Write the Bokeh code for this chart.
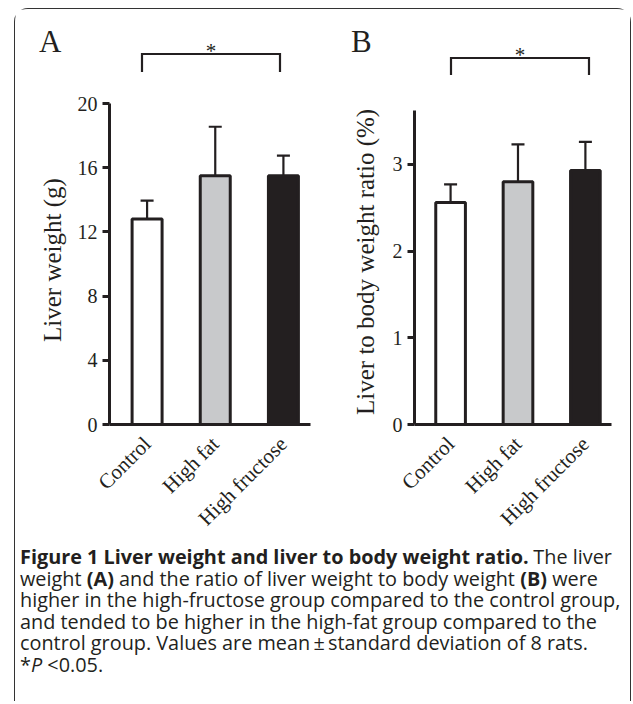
import glob
import os
import numpy as np
from bokeh.plotting import figure
from bokeh.models import ColumnDataSource, Range1d, FixedTicker, Whisker, TeeHead, Title
from bokeh.layouts import column, row
from bokeh.core.properties import value
from bokeh.embed import file_html
from bokeh.resources import INLINE

# ---------------- data ----------------
groups = ["Control", "High fat", "High fructose"]
bar_colors = ["#ffffff", "#c8c9cb", "#231f20"]
liver_weight_mean = [12.8, 15.5, 15.5]
liver_weight_sd = [1.15, 3.05, 1.25]
ratio_mean = [2.56, 2.80, 2.93]
ratio_sd = [0.21, 0.43, 0.33]
weight_ticks = [0, 4, 8, 12, 16, 20]
ratio_ticks = [0, 1, 2, 3]
sig_pair = [0, 2]
sig_mark = "*"
panel_letters = ["A", "B"]
y_labels = ["Liver weight (g)", "Liver to body weight ratio (%)"]

caption_lines = [
    [("Figure 1 Liver weight and liver to body weight ratio.", "bold"), (" The liver", "normal")],
    [("weight ", "normal"), ("(A)", "bold"), (" and the ratio of liver weight to body weight ", "normal"),
     ("(B)", "bold"), (" were", "normal")],
    [("higher in the high-fructose group compared to the control group,", "normal")],
    [("and tended to be higher in the high-fat group compared to the", "normal")],
    [("control group. Values are mean\u2009\u00b1\u2009standard deviation of 8 rats.", "normal")],
    [("*", "normal"), ("P", "italic"), (" <0.05.", "normal")],
]

INK = "#231f20"
SERIF = "Liberation Serif"
SANS = "Open Sans"

HEADER_H = 68
FRAME_H = 347
BOTTOM_H = 120


def plain(fig):
    fig.outline_line_color = None
    fig.xgrid.visible = False
    fig.ygrid.visible = False
    fig.background_fill_color = "white"
    fig.border_fill_color = "white"
    return fig


def make_header(letter, geo, bracket_top, bracket_leg, bracket_dx, letter_px, letter_y):
    xs = [i + 1 for i in range(len(groups))]
    x0 = 1 + (geo["fig_left"] - geo["c1"]) / geo["unit"]
    x1 = 1 + (geo["fig_right"] - geo["c1"]) / geo["unit"]
    h = figure(width=geo["width"], height=HEADER_H, x_range=Range1d(x0, x1),
               y_range=Range1d(HEADER_H, 0), output_backend="svg", toolbar_location=None,
               x_axis_location=None, y_axis_location=None, min_border=0)
    plain(h)
    a, b = sig_pair
    xl = xs[a] + bracket_dx[0] / geo["unit"]
    xr = xs[b] + bracket_dx[1] / geo["unit"]
    h.line(x=[xl, xl, xr, xr], y=[bracket_leg, bracket_top, bracket_top, bracket_leg],
           line_color=INK, line_width=2.2, line_join="miter")
    h.text(x=[(xl + xr) / 2], y=[bracket_top], y_offset=-3.5, text=[sig_mark], text_align="center",
           text_baseline="middle", text_font=value(SERIF), text_font_size="21px", text_color=INK)
    lx = 1 + (letter_px - geo["c1"]) / geo["unit"]
    h.text(x=[lx], y=[letter_y], text=[letter], text_align="left", text_baseline="middle",
           text_font=value(SERIF), text_font_size="31px", text_color=INK)
    return h


def make_panel(means, sds, yticks, ylabel, geo, px_per_unit, axis_top, ylab_offset, ylab_standoff):
    xs = [i + 1 for i in range(len(groups))]
    upper = [m + s for m, s in zip(means, sds)]
    src = ColumnDataSource(dict(x=xs, mean=means, upper=upper, color=bar_colors))
    x_start = 1 + (geo["axis_x"] - geo["c1"]) / geo["unit"]
    x_end = 1 + (geo["fig_right"] - geo["c1"]) / geo["unit"]
    x_axis_end = 1 + (geo["x_axis_right"] - geo["c1"]) / geo["unit"]
    y_end = FRAME_H / px_per_unit
    p = figure(width=geo["width"], height=FRAME_H + BOTTOM_H, x_range=Range1d(x_start, x_end),
               y_range=Range1d(0, y_end), output_backend="svg", toolbar_location=None,
               min_border_left=int(round(geo["axis_x"] - geo["fig_left"])), min_border_right=0,
               min_border_top=0, min_border_bottom=BOTTOM_H)
    plain(p)

    p.vbar(x="x", top="mean", bottom=0, width=0.44, fill_color="color", line_color=INK,
           line_width=3, source=src)
    w = Whisker(source=src, base="x", upper="upper", lower="mean", dimension="height",
                line_color=INK, line_width=2.2,
                upper_head=TeeHead(size=13, line_color=INK, line_width=2.2), lower_head=None)
    p.add_layout(w)

    ya = p.yaxis[0]
    ya.ticker = FixedTicker(ticks=yticks)
    ya.bounds = (0, axis_top)
    ya.axis_line_width = 3
    ya.axis_line_color = INK
    ya.major_tick_line_width = 3
    ya.major_tick_line_color = INK
    ya.major_tick_out = 7
    ya.major_tick_in = 0
    ya.minor_tick_line_color = None
    ya.major_label_text_font = SERIF
    ya.major_label_text_font_size = "20px"
    ya.major_label_text_color = INK
    ya.major_label_standoff = 5

    p.add_layout(Title(text=ylabel, align="left", offset=ylab_offset, standoff=ylab_standoff,
                       text_font=SERIF, text_font_size="25px", text_font_style="normal",
                       text_color=INK), "left")

    xa = p.xaxis[0]
    xa.ticker = FixedTicker(ticks=xs)
    xa.major_label_overrides = {x: g for x, g in zip(xs, groups)}
    xa.major_label_orientation = np.pi / 4
    xa.bounds = (x_start, x_axis_end)
    xa.axis_line_width = 3
    xa.axis_line_color = INK
    xa.major_tick_line_color = None
    xa.major_tick_out = 0
    xa.major_tick_in = 0
    xa.minor_tick_line_color = None
    xa.major_label_text_font = SERIF
    xa.major_label_text_font_size = "21px"
    xa.major_label_text_color = INK
    xa.major_label_standoff = 16
    return p


geoA = dict(width=305, fig_left=15.5, fig_right=320.5, axis_x=110, c1=147.5, unit=68.0, x_axis_right=311)
geoB = dict(width=310, fig_left=320.5, fig_right=630.5, axis_x=415, c1=451, unit=67.25, x_axis_right=612)

hA = make_header(panel_letters[0], geoA, bracket_top=44.5, bracket_leg=62.5, bracket_dx=(-5.5, -3.5),
                 letter_px=39, letter_y=31.5)
hB = make_header(panel_letters[1], geoB, bracket_top=48.5, bracket_leg=65.5, bracket_dx=(0, 3.5),
                 letter_px=351, letter_y=31.5)
pA = make_panel(liver_weight_mean, liver_weight_sd, weight_ticks, y_labels[0], geoA,
                px_per_unit=16.05, axis_top=20, ylab_offset=82.5, ylab_standoff=17)
pB = make_panel(ratio_mean, ratio_sd, ratio_ticks, y_labels[1], geoB,
                px_per_unit=86.7, axis_top=3.62, ylab_offset=9.5, ylab_standoff=22)


# ---------------- caption ----------------
def find_font(patterns):
    roots = ["/usr/share/fonts", "/usr/local/share/fonts",
             os.path.expanduser("~/.local/share/fonts"), os.path.expanduser("~/.fonts")]
    for pat in patterns:
        for r in roots:
            hits = sorted(glob.glob(os.path.join(r, "**", pat), recursive=True))
            if hits:
                return hits[0]
    return None


font_files = {
    "normal": find_font(["OpenSans-Regular.ttf", "OpenSans*Regular*.ttf", "OpenSans*.ttf"]),
    "bold": find_font(["OpenSans-Bold.ttf", "OpenSans*Bold.ttf"]),
    "italic": find_font(["OpenSans-Italic.ttf", "OpenSans*Italic*.ttf"]),
}
approx_em = {"normal": 0.47, "bold": 0.52, "italic": 0.46}
_font_cache = {}


def measure(text, style, size):
    try:
        from PIL import ImageFont
        path = font_files.get(style) or font_files.get("normal")
        if path is None:
            raise RuntimeError
        key = (path, style)
        if key not in _font_cache:
            f = ImageFont.truetype(path, 100)
            if style == "bold" and font_files.get("bold") is None:
                try:
                    f.set_variation_by_name("Bold")
                except Exception:
                    pass
            _font_cache[key] = f
        f = _font_cache[key]
        w = f.getlength(text) / 100.0 * size
        if style == "bold" and font_files.get("bold") is None:
            w *= 1.06
        return w
    except Exception:
        return len(text) * approx_em[style] * size


cap_size = 592.0 / sum(measure(t, s, 1.0) for t, s in caption_lines[0])
cap_size = max(15.0, min(21.0, cap_size))

cap_top = 9.5 + HEADER_H + FRAME_H + BOTTOM_H
cap_w, cap_h = 615, int(702 - cap_top)
cap_x0 = 4.5
cap_centers_page = [556, 578, 599.5, 621, 642.5, 664]

pC = figure(width=cap_w, height=cap_h, x_range=Range1d(0, cap_w), y_range=Range1d(cap_h, 0),
            output_backend="svg", toolbar_location=None, x_axis_location=None, y_axis_location=None,
            min_border=0)
plain(pC)

segs = {"normal": dict(x=[], y=[], t=[]), "bold": dict(x=[], y=[], t=[]), "italic": dict(x=[], y=[], t=[])}
for line, yc in zip(caption_lines, cap_centers_page):
    cx = cap_x0
    for text, style in line:
        lead = len(text) - len(text.lstrip(" "))
        cx += measure(" " * lead, style, cap_size) if lead else 0
        core = text.strip(" ")
        segs[style]["x"].append(cx)
        segs[style]["y"].append(yc - cap_top)
        segs[style]["t"].append(core)
        cx += measure(core, style, cap_size)
        trail = len(text) - len(text.rstrip(" "))
        cx += measure(" " * trail, style, cap_size) if trail else 0

for style, d in segs.items():
    if not d["t"]:
        continue
    pC.text(x=d["x"], y=d["y"], text=d["t"], text_font=value(SANS),
            text_font_size=f"{cap_size:.2f}px",
            text_font_style=style, text_color=INK, text_align="left", text_baseline="middle")

layout = column(row(hA, hB), row(pA, pB), pC,
                styles={"margin-left": "14px", "margin-top": "8px",
                        "border-top": "1.5px solid #333333", "border-left": "1.5px solid #333333",
                        "border-right": "1.5px solid #333333",
                        "border-top-left-radius": "14px", "border-top-right-radius": "14px"})

open("out.html", "w").write(file_html(layout, INLINE))
